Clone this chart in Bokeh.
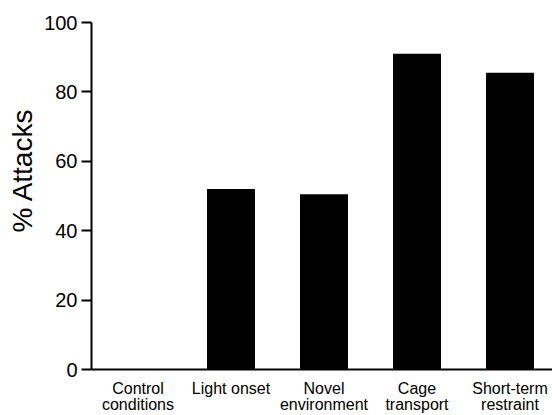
from bokeh.plotting import figure
from bokeh.models import Range1d, FixedTicker, Title, ColumnDataSource
from bokeh.embed import file_html
from bokeh.resources import INLINE

categories = ["Control\nconditions", "Light onset", "Novel\nenvironment", "Cage\ntransport", "Short-term\nrestraint"]
attacks = [0, 52, 50.5, 91, 85.5]
y_ticks = [0, 20, 40, 60, 80, 100]

idx = list(range(len(categories)))
src = ColumnDataSource(dict(x=idx, top=attacks))

p = figure(width=552, height=415, output_backend="svg", toolbar_location=None,
           x_range=Range1d(-0.5, 4.457), y_range=Range1d(0, 100),
           min_border_left=91, min_border_right=0, min_border_top=22, min_border_bottom=45)
p.outline_line_color = None
p.xgrid.visible = False
p.ygrid.visible = False

p.vbar(x="x", top="top", width=0.516, bottom=0, source=src,
       fill_color="black", line_color=None)

FONT = "Liberation Sans"
p.xaxis.ticker = FixedTicker(ticks=idx)
p.xaxis.major_label_overrides = {i: c for i, c in zip(idx, categories)}
p.xaxis.major_tick_line_color = None
p.xaxis.minor_tick_line_color = None
p.xaxis.axis_line_width = 2
p.xaxis.major_label_text_font = FONT
p.xaxis.major_label_text_font_size = "16px"
p.xaxis.major_label_text_color = "black"
p.xaxis.major_label_text_line_height = 0.95
p.xaxis.major_label_standoff = 4

p.yaxis.ticker = FixedTicker(ticks=y_ticks)
p.yaxis.axis_line_width = 2
p.yaxis.major_tick_line_width = 2
p.yaxis.major_tick_out = 10
p.yaxis.major_tick_in = 0
p.yaxis.minor_tick_line_color = None
p.yaxis.major_label_text_font = FONT
p.yaxis.major_label_text_font_size = "20px"
p.yaxis.major_label_text_color = "black"
p.yaxis.major_label_standoff = 4

ttl = Title(text="% Attacks", align="left", offset=137, standoff=8,
            text_font=FONT, text_font_size="28px", text_font_style="normal",
            text_color="black")
p.add_layout(ttl, "left")

open("out.html", "w").write(file_html(p, INLINE))
